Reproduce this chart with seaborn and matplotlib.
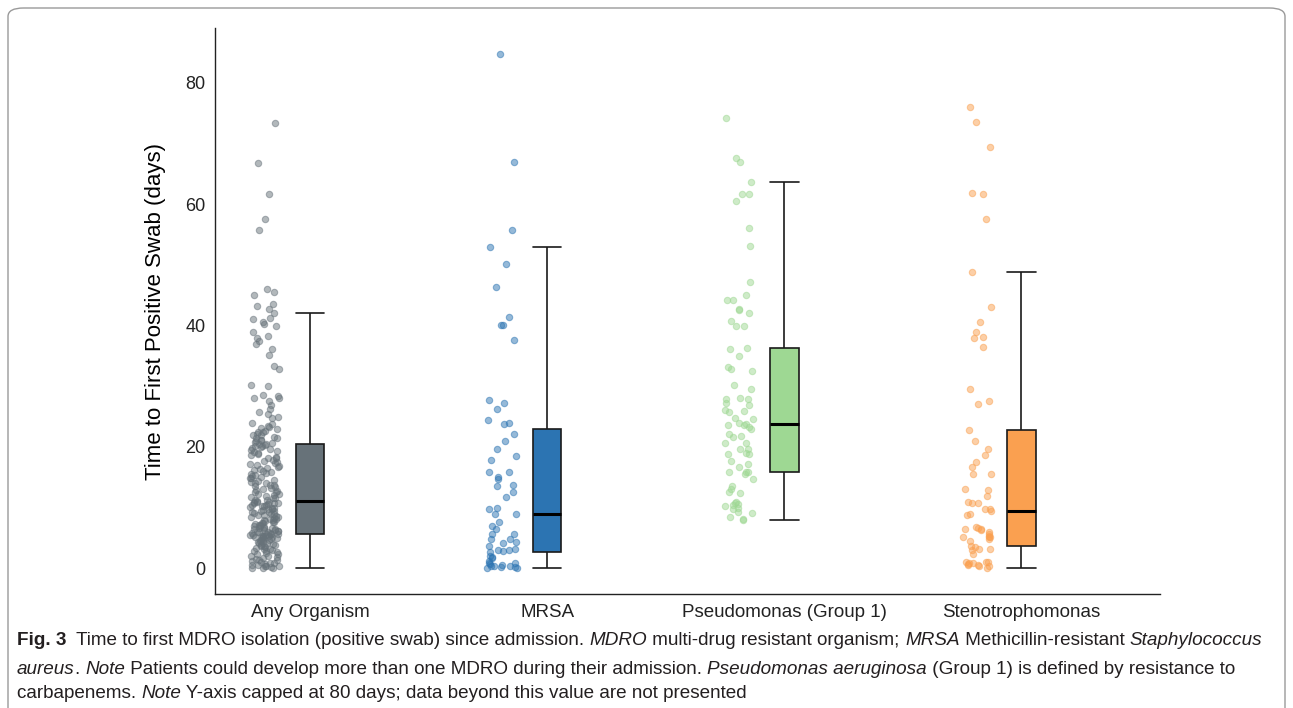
import numpy as np
import pandas as pd
import seaborn as sns
from matplotlib import pyplot as plt
from matplotlib.patches import FancyBboxPatch


GROUPS = ["Any Organism", "MRSA", "Pseudomonas (Group 1)", "Stenotrophomonas"]
BOX_COLORS = ["#677279", "#2c74b2", "#9ed893", "#faa050"]

# days to first positive swab
any_organism = [
    0.0, 0.1, 0.1, 0.2, 0.3, 0.3, 0.4, 0.5, 0.6, 0.7,
    0.8, 0.9, 1.0, 1.2, 1.3, 1.4, 1.6, 1.7, 1.9, 2.0,
    2.1, 2.3, 2.4, 2.5, 2.6, 2.8, 2.9, 3.0, 3.1, 3.2,
    3.3, 3.5, 3.6, 3.7, 3.8, 3.9, 4.0, 4.1, 4.2, 4.3,
    4.4, 4.5, 4.6, 4.7, 4.8, 4.9, 5.0, 5.0, 5.1, 5.2,
    5.2, 5.3, 5.3, 5.4, 5.4, 5.5, 5.5, 5.6, 5.6, 5.6,
    5.7,
    5.8, 5.8, 5.9, 6.0, 6.0, 6.1, 6.2, 6.3, 6.3, 6.4,
    6.5, 6.6, 6.7, 6.7, 6.8, 6.9, 7.0, 7.1, 7.2, 7.3,
    7.4, 7.5, 7.6, 7.7, 7.8, 7.9, 8.0, 8.1, 8.2, 8.3,
    8.4, 8.5, 8.6, 8.7, 8.8, 8.9, 9.0, 9.1, 9.2, 9.3,
    9.4, 9.5, 9.6, 9.7, 9.8, 9.9, 10.0, 10.1, 10.2, 10.3,
    10.4, 10.5, 10.6, 10.7, 10.8, 10.8, 10.9, 10.9, 11.0,
    11.1,
    11.2, 11.3, 11.5, 11.6, 11.8, 11.9, 12.0, 12.2, 12.3, 12.5,
    12.6, 12.8, 12.9, 13.1, 13.2, 13.4, 13.5, 13.7, 13.8, 14.0,
    14.1, 14.3, 14.4, 14.6, 14.8, 14.9, 15.1, 15.2, 15.4, 15.6,
    15.7, 15.9, 16.0, 16.2, 16.4, 16.5, 16.7, 16.9, 17.0, 17.2,
    17.4, 17.5, 17.7, 17.9, 18.1, 18.2, 18.4, 18.6, 18.8, 19.0,
    19.1, 19.3, 19.5, 19.7, 19.8, 20.0, 20.1, 20.2, 20.3,
    20.4,
    20.5, 20.6, 20.8, 20.9, 21.1, 21.2, 21.4, 21.5, 21.7, 21.9,
    22.0, 22.2, 22.4, 22.5, 22.7, 22.9, 23.1, 23.3, 23.5,
    23.7, 24.0, 24.7, 25.0, 25.5, 25.8, 26.3, 26.9, 27.6, 28.0,
    28.1, 28.4, 28.5, 30.0, 30.2, 32.8, 33.3, 35.1, 36.1, 36.9,
    37.5, 37.9, 38.2, 38.9, 39.9, 40.2, 40.6, 41.1, 41.3, 42.1,
    42.8, 43.2, 43.5, 45.1, 45.5, 46.0, 55.7, 57.5, 61.6, 66.8,
    73.4,
]
mrsa = [
    84.8, 67.0, 55.8, 52.9, 50.1, 46.4, 41.4, 40.1, 40.1, 37.6,
    27.7, 27.3, 26.2, 24.4, 23.9, 23.7, 22.2, 21.0, 19.7, 18.5,
    17.8, 15.8, 15.8, 15.0, 14.7, 13.7, 13.5, 12.6, 11.7, 9.9,
    9.8, 9.0, 8.9, 7.6, 7.0, 6.4, 5.6, 5.6, 4.9, 4.8,
    4.3, 4.1, 3.7, 3.1, 3.0, 3.0, 2.8, 2.6, 2.0, 1.9,
    1.7, 1.2, 0.9, 0.8, 0.7, 0.5, 0.4, 0.3, 0.3, 0.2,
    0.2, 0.1, 0.0,
]
pseudomonas = [
    74.2, 67.6, 67.0, 63.6, 61.6, 61.6, 60.6, 56.1, 53.1, 47.1,
    45.1, 44.2, 44.2, 42.8, 42.6, 42.0, 40.8, 39.9, 39.9, 36.3,
    36.1, 35.0, 33.2, 32.8, 32.5, 30.2, 29.5, 28.1, 27.9, 27.9,
    27.2, 26.9, 26.1, 25.9, 25.7, 24.7, 24.6, 23.9, 23.6, 23.7,
    23.6, 23.3, 23.0, 22.2, 21.8, 21.7, 20.7, 20.6, 19.7, 19.7,
    19.0, 18.8, 18.8, 17.7, 17.2, 16.7, 15.9, 15.9, 15.8, 15.5,
    14.7, 13.6, 13.1, 12.6, 12.4, 10.9, 10.8, 10.6, 10.4, 10.2,
    9.9, 9.7, 9.3, 9.1, 8.5, 8.1, 7.9,
]
stenotrophomonas = [
    76.0, 73.5, 69.5, 61.8, 61.6, 57.6, 48.8, 43.1, 40.6, 39.0,
    38.1, 37.9, 36.5, 29.5, 27.5, 27.1, 22.8, 20.9, 19.7, 18.6,
    17.5, 16.7, 15.5, 15.5, 13.0, 12.9, 11.9, 11.0, 10.8, 10.7,
    9.7, 9.7, 9.4, 8.9, 8.7, 6.8, 6.7, 6.5, 6.4, 6.3,
    5.9, 5.6, 5.3, 5.2, 5.2, 5.2, 4.9, 4.5, 3.7, 3.5,
    3.1, 3.1, 3.0, 2.4, 1.0, 1.0, 1.0, 0.9, 0.8, 0.7,
    0.6, 0.5, 0.3, 0.3, 0.1,
]

Y_TICKS = [0, 20, 40, 60, 80]
Y_LABEL = "Time to First Positive Swab (days)"

# caption segments: (text, weight, style)
CAPTION = [
    [("Fig. 3", "bold", "normal"),
     ("  Time to first MDRO isolation (positive swab) since admission. ", "normal", "normal"),
     ("MDRO", "normal", "italic"),
     (" multi-drug resistant organism; ", "normal", "normal"),
     ("MRSA", "normal", "italic"),
     (" Methicillin-resistant ", "normal", "normal"),
     ("Staphylococcus", "normal", "italic")],
    [("aureus", "normal", "italic"),
     (". ", "normal", "normal"),
     ("Note", "normal", "italic"),
     (" Patients could develop more than one MDRO during their admission. ", "normal", "normal"),
     ("Pseudomonas aeruginosa", "normal", "italic"),
     (" (Group 1) is defined by resistance to", "normal", "normal")],
    [("carbapenems. ", "normal", "normal"),
     ("Note", "normal", "italic"),
     (" Y-axis capped at 80 days; data beyond this value are not presented", "normal", "normal")],
]


def draw_caption(fig, lines, x0=17, baselines=(645, 674, 698), size=13.6):
    """Write the caption line by line, one text object per style run."""
    renderer = fig.canvas.get_renderer()
    W, H = fig.bbox.width, fig.bbox.height
    for segs, yb in zip(lines, baselines):
        x = x0 / W
        for text, weight, style in segs:
            t = fig.text(x, 1 - yb / H, text, fontsize=size, fontweight=weight,
                         fontstyle=style, va="baseline", ha="left", color="#231f20",
                         family=["Liberation Sans", "DejaVu Sans"])
            x += t.get_window_extent(renderer).width / W


def main():
    np.random.seed(7)
    sns.set_style("white")
    plt.rcParams["font.family"] = ["Liberation Sans", "DejaVu Sans"]

    values = [any_organism, mrsa, pseudomonas, stenotrophomonas]
    df = pd.concat([pd.DataFrame({"group": g, "days": v}) for g, v in zip(GROUPS, values)],
                   ignore_index=True)
    df["pos"] = df["group"].map({g: i for i, g in enumerate(GROUPS)}).astype(float)
    df["pt_x"] = df["pos"] - 0.19

    fig = plt.figure(figsize=(12.93, 7.08), dpi=100)
    ax = fig.add_axes([215 / 1293, 1 - 594 / 708, 945 / 1293, 566 / 708])

    # jittered points, left of each box
    for g, c in zip(GROUPS, BOX_COLORS):
        sub = df[df["group"] == g]
        sns.stripplot(x=sub["pt_x"], y=sub["days"], native_scale=True, jitter=0.062,
                      color=c, edgecolor=c, linewidth=0.8, size=4.6, alpha=0.5, ax=ax)

    sns.boxplot(data=df, x="pos", y="days", hue="group", palette=BOX_COLORS,
                saturation=1, native_scale=True, dodge=False, width=0.12, showfliers=False,
                linecolor="#1a1a1a", linewidth=1.2, legend=False,
                medianprops=dict(linewidth=2.2, color="black"),
                capwidths=0.12, ax=ax)

    ax.set_xlim(-0.40, 3.584)
    ax.set_ylim(-4.24, 89.04)
    ax.set_xticks(range(len(GROUPS)))
    ax.set_xticklabels(GROUPS)
    ax.set_yticks(Y_TICKS)
    ax.set_xlabel("")
    ax.set_ylabel(Y_LABEL, fontsize=16, color="black", labelpad=14)
    ax.tick_params(axis="both", length=4, width=0.9, color="#333333",
                   labelcolor="#222222", labelsize=13, pad=3)
    ax.tick_params(axis="x", labelsize=13.5)
    sns.despine(ax=ax)
    for side in ["left", "bottom"]:
        ax.spines[side].set_color("#222222")
        ax.spines[side].set_linewidth(1.0)

    # rounded frame around the figure panel, cut off at the bottom
    frame = FancyBboxPatch((8 / 1293, -0.05), 1277 / 1293, 1.05 - 8 / 708,
                           boxstyle="round,pad=0,rounding_size=0.012",
                           transform=fig.transFigure, fill=False,
                           edgecolor="#9a9a9a", linewidth=1.0)
    fig.add_artist(frame)

    draw_caption(fig, CAPTION)

    fig.savefig("out.png", dpi=100)


if __name__ == "__main__":
    main()
